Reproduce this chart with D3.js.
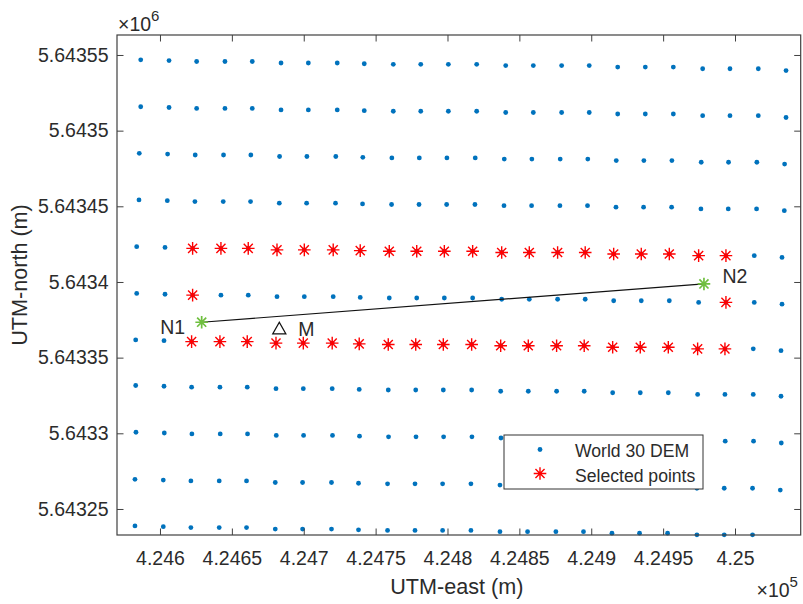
<!DOCTYPE html>
<html>
<head>
<meta charset="utf-8">
<script src="https://cdn.jsdelivr.net/npm/d3@7"></script>
<style>
  html, body { margin: 0; padding: 0; background: #fff; }
  svg { display: block; font-family: "Liberation Sans", Arial, sans-serif; }
</style>
</head>
<body>
<svg id="chart" width="803" height="604"></svg>
<script>
// ---------------- data ----------------
// DEM grid: easting of each column (top row) and northing of each row (left column), metres
const demEast = [424586.6, 424606.3, 424625.5, 424645.2, 424664.2, 424684.2, 424703.2, 424723.3,
                 424742.1, 424762.3, 424781.4, 424800.6, 424820.3, 424840.5, 424859.7, 424879.4,
                 424898.6, 424918.4, 424937.6, 424957.1, 424977.5, 424996.5, 425016.2, 425035.5];
const demNorth = [5643546.8, 5643515.8, 5643485.0, 5643454.2, 5643423.3, 5643392.4,
                  5643361.7, 5643331.6, 5643300.7, 5643269.6, 5643238.8];
// grid is slightly rotated against UTM: per-column northing shift, per-row easting shift (m)
const colNorthShift = [0, -0.5, -1.1, -1.1, -1.1, -2.1, -2.1, -2.1, -2.6, -3.0, -3.0, -3.0,
                       -3.0, -3.8, -3.8, -3.8, -3.8, -4.8, -4.8, -4.8, -5.9, -5.9, -5.9, -7.1];
const rowEastShift = [0, 0, -1.0, -1.2, -2.8, -2.8, -3.5, -3.5, -3.3, -4.0, -4.0];

// selected points (row index, list of column indices)
const selectedRows = [4, 5, 6];
const selectedCols = [
  [2, 3, 4, 5, 6, 7, 8, 9, 10, 11, 12, 13, 14, 15, 16, 17, 18, 19, 20, 21],
  [2, 21],
  [2, 3, 4, 5, 6, 7, 8, 9, 10, 11, 12, 13, 14, 15, 16, 17, 18, 19, 20, 21]
];

// named points
const nodeNames = ["N1", "N2"];
const nodeEast = [424629.0, 424978.4];
const nodeNorth = [5643373.4, 5643398.7];
const midName = "M";
const midEast = 424683.0;
const midNorth = 5643369.4;

// axes
const xDomain = [424570.1, 425045.7];
const yDomain = [5643232.8, 5643563.2];
const xTicks = [424600, 424650, 424700, 424750, 424800, 424850, 424900, 424950, 425000];
const xTickLabels = ["4.246", "4.2465", "4.247", "4.2475", "4.248", "4.2485", "4.249", "4.2495", "4.25"];
const yTicks = [5643250, 5643300, 5643350, 5643400, 5643450, 5643500, 5643550];
const yTickLabels = ["5.64325", "5.6433", "5.64335", "5.6434", "5.64345", "5.6435", "5.64355"];
const xLabel = "UTM-east (m)";
const yLabel = "UTM-north (m)";
const legendLabels = ["World 30 DEM", "Selected points"];

// ---------------- drawing ----------------
const L = 117, R = 800.7, T = 35, B = 535;
const axisCol = "#404040", textCol = "#2b2b2b";
const blue = "#0072BD", red = "#FF0000", green = "#6fbf3f";
const tickFont = 19.5;
const dotR = 2.4;

const svg = d3.select("#chart");
const x = d3.scaleLinear().domain(xDomain).range([L, R]);
const y = d3.scaleLinear().domain(yDomain).range([B, T]);

// white plot background
svg.append("rect").attr("x", L).attr("y", T).attr("width", R - L).attr("height", B - T).attr("fill", "#fff");

// DEM points
const demPts = [];
demNorth.forEach((n, i) => demEast.forEach((e, j) => {
  demPts.push({ e: e + rowEastShift[i], n: n + colNorthShift[j] });
}));
const inside = p => p.e >= xDomain[0] && p.e <= xDomain[1] && p.n >= yDomain[0] && p.n <= yDomain[1];

svg.append("g").selectAll("circle").data(demPts.filter(inside)).join("circle")
  .attr("cx", d => x(d.e)).attr("cy", d => y(d.n)).attr("r", dotR).attr("fill", blue);

// asterisk path
function starPath(s) {
  const d = s * 0.72;
  return `M${-s},0L${s},0M0,${-s}L0,${s}M${-d},${-d}L${d},${d}M${-d},${d}L${d},${-d}`;
}

const selPts = [];
selectedRows.forEach((i, k) => selectedCols[k].forEach(j => {
  selPts.push({ e: demEast[j] + rowEastShift[i], n: demNorth[i] + colNorthShift[j] });
}));
svg.append("g").selectAll("path").data(selPts).join("path")
  .attr("transform", d => `translate(${x(d.e)},${y(d.n)})`)
  .attr("d", starPath(6.3)).attr("stroke", red).attr("stroke-width", 1.4).attr("fill", "none");

// N1-N2 line
svg.append("line")
  .attr("x1", x(nodeEast[0])).attr("y1", y(nodeNorth[0]))
  .attr("x2", x(nodeEast[1])).attr("y2", y(nodeNorth[1]))
  .attr("stroke", "#111").attr("stroke-width", 1.2);

// green nodes
nodeNames.forEach((name, k) => {
  svg.append("path")
    .attr("transform", `translate(${x(nodeEast[k])},${y(nodeNorth[k])})`)
    .attr("d", starPath(6.3)).attr("stroke", green).attr("stroke-width", 1.7).attr("fill", "none");
});

// triangle M
const mx = x(midEast), my = y(midNorth);
svg.append("path")
  .attr("d", `M${mx},${my - 6}L${mx + 6.5},${my + 5.5}L${mx - 6.5},${my + 5.5}Z`)
  .attr("fill", "none").attr("stroke", "#111").attr("stroke-width", 1.3);

// annotations
const annFont = 19.5;
svg.append("text").attr("x", x(nodeEast[0]) - 16.5).attr("y", y(nodeNorth[0]) + 12)
  .attr("text-anchor", "end").attr("font-size", annFont).attr("fill", textCol).text(nodeNames[0]);
svg.append("text").attr("x", x(nodeEast[1]) + 18.5).attr("y", y(nodeNorth[1]) - 1)
  .attr("font-size", annFont).attr("fill", textCol).text(nodeNames[1]);
svg.append("text").attr("x", mx + 19).attr("y", my + 7.5)
  .attr("font-size", annFont).attr("fill", textCol).text(midName);

// axes
const tickLen = 6.5;
const gx = svg.append("g").attr("transform", `translate(0,${B})`)
  .call(d3.axisBottom(x).tickValues(xTicks).tickFormat((d, i) => xTickLabels[i])
        .tickSizeInner(-tickLen).tickSizeOuter(0).tickPadding(16));
const gy = svg.append("g").attr("transform", `translate(${L},0)`)
  .call(d3.axisLeft(y).tickValues(yTicks).tickFormat((d, i) => yTickLabels[i])
        .tickSizeInner(-tickLen).tickSizeOuter(0).tickPadding(8.5));
const gt = svg.append("g").attr("transform", `translate(0,${T})`)
  .call(d3.axisTop(x).tickValues(xTicks).tickFormat("").tickSizeInner(-tickLen).tickSizeOuter(0));
const gr = svg.append("g").attr("transform", `translate(${R},0)`)
  .call(d3.axisRight(y).tickValues(yTicks).tickFormat("").tickSizeInner(-tickLen).tickSizeOuter(0));
[gx, gy, gt, gr].forEach(g => {
  g.select(".domain").remove();
  g.selectAll(".tick line").attr("stroke", axisCol).attr("stroke-width", 1);
  g.selectAll(".tick text").attr("fill", textCol).attr("font-size", tickFont)
    .attr("font-family", "Liberation Sans, Arial, sans-serif");
});
svg.append("rect").attr("x", L).attr("y", T).attr("width", R - L).attr("height", B - T)
  .attr("fill", "none").attr("stroke", axisCol).attr("stroke-width", 1.2);

// exponent labels
const e6 = svg.append("text").attr("x", 118).attr("y", 31).attr("font-size", tickFont).attr("fill", textCol);
e6.append("tspan").text("\u00d710");
e6.append("tspan").attr("font-size", 15).attr("dy", -10).text("6");
const e5 = svg.append("text").attr("x", 756.5).attr("y", 597).attr("font-size", tickFont).attr("fill", textCol);
e5.append("tspan").text("\u00d710");
e5.append("tspan").attr("font-size", 15).attr("dy", -10).text("5");

// axis labels
svg.append("text").attr("x", (L + R) / 2 - 2).attr("y", 594).attr("text-anchor", "middle")
  .attr("font-size", 21.6).attr("fill", textCol).text(xLabel);
svg.append("text").attr("transform", "translate(27,275) rotate(-90)").attr("text-anchor", "middle")
  .attr("font-size", 21.6).attr("fill", textCol).text(yLabel);

// legend
const lg = svg.append("g");
lg.append("rect").attr("x", 504).attr("y", 435).attr("width", 199).attr("height", 54)
  .attr("fill", "#fff").attr("stroke", "#333").attr("stroke-width", 1);
lg.append("circle").attr("cx", 540).attr("cy", 449.5).attr("r", dotR).attr("fill", blue);
lg.append("path").attr("transform", "translate(540,473.5)").attr("d", starPath(6.3))
  .attr("stroke", red).attr("stroke-width", 1.4).attr("fill", "none");
lg.append("text").attr("x", 575).attr("y", 457.3).attr("font-size", 17.6).attr("fill", textCol).text(legendLabels[0]);
lg.append("text").attr("x", 575).attr("y", 481.5).attr("font-size", 17.6).attr("fill", textCol).text(legendLabels[1]);
</script>
</body>
</html>
